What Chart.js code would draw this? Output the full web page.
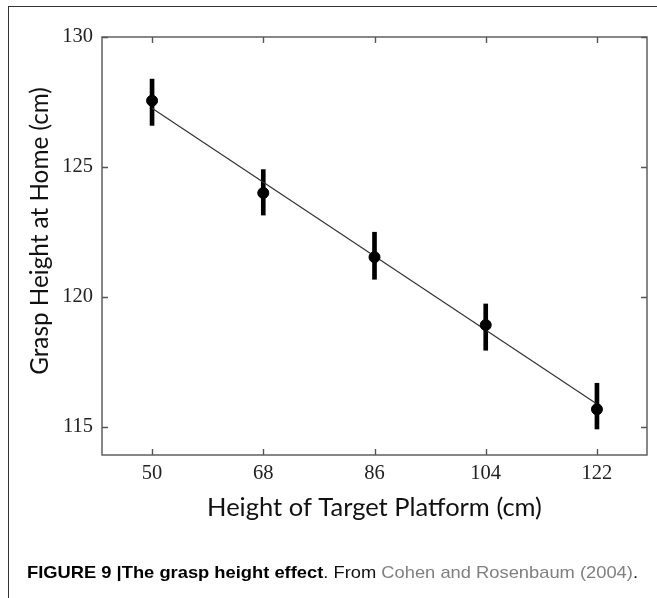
<!DOCTYPE html>
<html>
<head>
<meta charset="utf-8">
<script src="https://cdn.jsdelivr.net/npm/chart.js@4.4.1/dist/chart.umd.min.js"></script>
<style>
  html, body { margin:0; padding:0; background:#fff; }
  body { width:657px; height:598px; position:relative; overflow:hidden; }
  #frameL { position:absolute; left:8px; top:7px; width:0; height:600px; border-left:1.6px solid #333; }
  #frameT { position:absolute; left:8px; top:6px; width:660px; height:0; border-top:1.6px solid #333; }
  #wrap { position:absolute; left:0; top:0; width:657px; height:598px; }
  #caption { position:absolute; left:27px; top:563px; font-family:"Liberation Sans", Arial, sans-serif; font-size:17px; line-height:20px; white-space:nowrap; color:#111; transform-origin:0 50%; }
  #caption b { font-weight:bold; color:#000; }
  #caption .cite { color:#808080; }
</style>
</head>
<body>
<div id="frameL"></div>
<div id="frameT"></div>
<div id="wrap"><canvas id="c" width="657" height="598"></canvas></div>
<div id="caption"><b>FIGURE 9 |The grasp height effect</b>. From <span class="cite">Cohen and Rosenbaum (2004)</span>.</div>
<script>
// ---- data ----
const platformHeights = [50, 68, 86, 104, 122];
const graspHeights    = [127.55, 124.0, 121.53, 118.92, 115.68];
const errorLow        = [126.6, 123.15, 120.68, 117.95, 114.92];
const errorHigh       = [128.38, 124.9, 122.49, 119.73, 116.68];
const fitX            = [50, 122];
const fitY            = [127.26, 115.88];
const xTicks          = [50, 68, 86, 104, 122];
const yTicks          = [115, 120, 125, 130];
const xTitle = 'Height of Target Platform (cm)';
const yTitle = 'Grasp Height at Home (cm)';

const pointData = platformHeights.map((x, i) => ({x, y: graspHeights[i]}));
const errData   = platformHeights.map((x, i) => ({x, y: [errorLow[i], errorHigh[i]]}));
const fitData   = fitX.map((x, i) => ({x, y: fitY[i]}));

const AXIS_COLOR = '#555';

const frameAndTicks = {
  id: 'frameAndTicks',
  afterDraw(chart) {
    const {ctx, chartArea: a, scales} = chart;
    ctx.save();
    ctx.strokeStyle = AXIS_COLOR;
    ctx.lineWidth = 1.4;
    ctx.strokeRect(a.left, a.top, a.right - a.left, a.bottom - a.top);
    const tl = 6;
    ctx.beginPath();
    xTicks.forEach(v => {
      const px = Math.round(scales.x.getPixelForValue(v)) + 0.5;
      ctx.moveTo(px, a.bottom); ctx.lineTo(px, a.bottom - tl);
      ctx.moveTo(px, a.top); ctx.lineTo(px, a.top + tl);
    });
    yTicks.forEach(v => {
      const py = Math.round(scales.y.getPixelForValue(v)) + 0.5;
      ctx.moveTo(a.left, py); ctx.lineTo(a.left + tl, py);
      ctx.moveTo(a.right, py); ctx.lineTo(a.right - tl, py);
    });
    ctx.stroke();
    // y axis title
    ctx.fillStyle = '#111';
    ctx.font = '24.3px Lato, "Open Sans", sans-serif';
    ctx.textAlign = 'center';
    ctx.textBaseline = 'middle';
    ctx.translate(40, 231);
    ctx.rotate(-Math.PI / 2);
    ctx.fillText(yTitle, 0, 0);
    ctx.restore();
  }
};

new Chart(document.getElementById('c'), {
  type: 'scatter',
  data: {
    datasets: [
      { type: 'scatter', data: pointData, backgroundColor: '#000', borderColor: '#000',
        pointRadius: 5.5, pointHoverRadius: 5.5, order: 0 },
      { type: 'line', data: fitData, borderColor: '#333', borderWidth: 1.2, pointRadius: 0,
        fill: false, tension: 0, order: 1 },
      { type: 'bar', data: errData, backgroundColor: '#000', borderWidth: 0,
        barThickness: 4, grouped: false, order: 2 }
    ]
  },
  plugins: [frameAndTicks],
  options: {
    responsive: false,
    animation: false,
    devicePixelRatio: 1,
    layout: { padding: { left: 0, top: 37, right: 10, bottom: 75 } },
    plugins: { legend: { display: false }, tooltip: { enabled: false }, title: { display: false } },
    scales: {
      x: {
        type: 'linear', min: 41.9, max: 130.1, offset: false,
        afterBuildTicks: s => { s.ticks = xTicks.map(v => ({value: v})); },
        afterFit: s => { s.height = 68; },
        grid: { display: false, drawTicks: false },
        border: { display: false },
        ticks: { padding: 6, color: '#222', font: { family: '"Liberation Serif", serif', size: 20.5 } },
        title: { display: true, text: xTitle, color: '#111', padding: 0,
                 font: { family: 'Lato, "Open Sans", sans-serif', size: 25.5 } }
      },
      y: {
        type: 'linear', min: 113.92, max: 130,
        afterBuildTicks: s => { s.ticks = yTicks.map(v => ({value: v})); },
        afterFit: s => { s.width = 102; },
        grid: { display: false, drawTicks: false },
        border: { display: false },
        ticks: { padding: 9, color: '#222', font: { family: '"Liberation Serif", serif', size: 20.5 } }
      }
    }
  }
});

const cap = document.getElementById('caption');
const w = cap.getBoundingClientRect().width;
cap.style.transform = 'scaleX(' + (611 / w) + ')';
</script>
</body>
</html>
